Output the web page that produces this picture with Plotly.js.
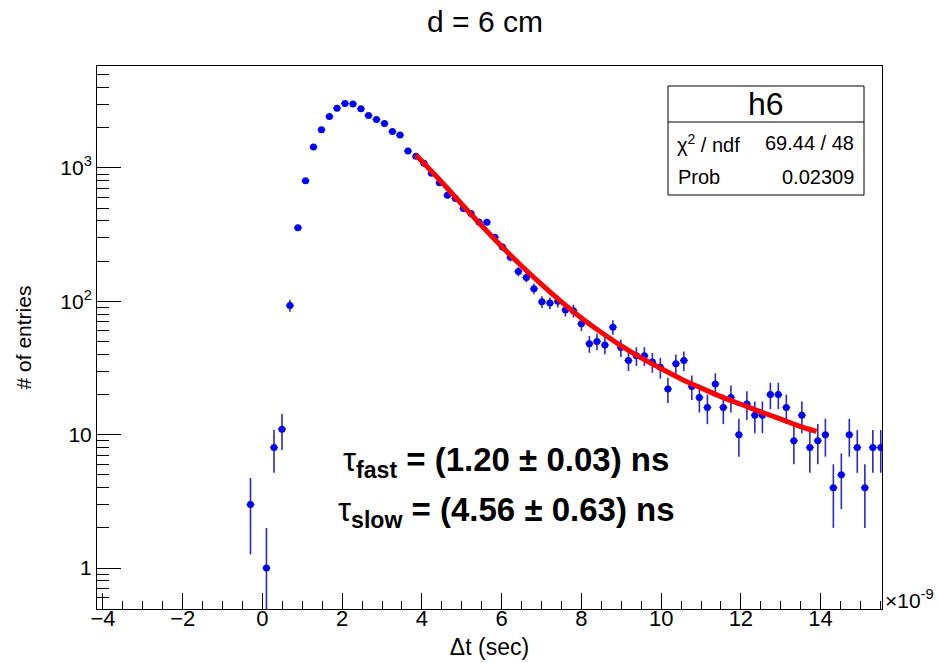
<!DOCTYPE html>
<html><head><meta charset="utf-8">
<script src="https://cdn.plot.ly/plotly-3.0.1.min.js"></script>
<style>html,body{margin:0;padding:0;background:#fff}</style>
</head><body><div id="chart" style="width:940px;height:663px"></div>
<script>
// bin centres (ns) and entries
const binCenters = [-0.30, 0.10, 0.29, 0.49, 0.69, 0.89, 1.08, 1.28, 1.48, 1.68,
  1.87, 2.07, 2.27, 2.47, 2.66, 2.86, 3.06, 3.26, 3.45, 3.65,
  3.85, 4.05, 4.24, 4.44, 4.64, 4.84, 5.04, 5.23, 5.43, 5.63,
  5.83, 6.02, 6.22, 6.42, 6.62, 6.81, 7.01, 7.21, 7.41, 7.60,
  7.80, 8.00, 8.20, 8.39, 8.59, 8.79, 8.99, 9.18, 9.38, 9.58,
  9.78, 9.98, 10.17, 10.37, 10.57, 10.77, 10.96, 11.16, 11.36, 11.56,
  11.75, 11.95, 12.15, 12.35, 12.54, 12.74, 12.94, 13.14, 13.33, 13.53,
  13.73, 13.93, 14.12, 14.32, 14.52, 14.72, 14.92, 15.11, 15.31, 15.51];
const counts = [3, 1, 8, 11, 93, 356, 800, 1432, 1929, 2430,
  2806, 3041, 3020, 2772, 2473, 2307, 2153, 1876, 1762, 1336,
  1222, 1082, 910, 773, 625, 590, 497, 456, 393, 391,
  302, 255, 214, 167, 151, 124, 99, 97, 100, 86,
  85, 68, 48, 50, 47, 64, 45, 36, 39, 39,
  35, 32, 22, 34, 36, 23, 19, 16, 24, 16,
  19, 10, 17, 14, 14, 20, 20, 16, 9, 14,
  8, 9, 10, 4, 5, 10, 8, 4, 8, 8];
const halfBin = 0.099;

// fit curve
const fitX = [3.85, 4.5, 5.0, 5.5, 6.0, 6.5, 7.0, 7.5, 8.0, 8.5, 9.0, 9.5, 10.0, 10.5, 11.0, 11.5, 12.0, 12.5, 13.0, 13.5, 13.9];
const fitY = [1250, 781, 534, 369, 258, 184, 134, 99, 75, 58.3, 46.4, 37.7, 31.3, 26.2, 22.4, 19.3, 16.9, 14.8, 13.1, 11.5, 10.6];

const yTickVals = [1, 10, 100, 1000];
const yTickText = ['1', '10', '10<sup>2</sup>', '10<sup>3</sup>'];

const titleText = 'd = 6 cm';
const xTitle = '\u0394t (sec)';
const yTitle = '# of entries';
const tauLines = ['\u03c4<sub><b>fast</b></sub><b> = (1.20 \u00b1 0.03) ns</b>',
                  '\u03c4<sub><b>slow</b></sub><b> = (4.56 \u00b1 0.63) ns</b>'];
const statsName = 'h6';
const statsLabels = ['\u03c7<sup>2</sup> / ndf', 'Prob'];
const statsValues = ['69.44 / 48', '0.02309'];

// layout helpers (pixel -> paper)
const L = 97, R = 882, T = 66, B = 609;
const px = v => (v - L) / (R - L);
const py = v => (B - v) / (B - T);

const minorY = [];
[0.1, 1, 10, 100, 1000].forEach(d => { for (let m = 2; m <= 9; m++) minorY.push(m * d); });

const FONT = 'Liberation Sans, Arial, Helvetica, sans-serif';

const data = [
  {
    x: binCenters, y: counts, type: 'scatter', mode: 'markers',
    marker: {color: '#0000ff', size: 7, symbol: 'circle'},
    error_y: {type: 'data', array: counts.map(Math.sqrt), color: 'rgb(40,40,210)', thickness: 1.6, width: 0},
    error_x: {type: 'constant', value: halfBin, color: '#000070', thickness: 1, width: 0},
    hoverinfo: 'x+y'
  },
  {
    x: fitX, y: fitY, type: 'scatter', mode: 'lines',
    line: {color: '#ff0000', width: 5, shape: 'spline'},
    hoverinfo: 'x+y'
  }
];

const annotations = [
  {text: tauLines[0], x: px(506), y: py(462), xref: 'paper', yref: 'paper', xanchor: 'center', yanchor: 'middle', showarrow: false, font: {family: FONT, size: 33, color: '#000'}},
  {text: tauLines[1], x: px(506), y: py(512), xref: 'paper', yref: 'paper', xanchor: 'center', yanchor: 'middle', showarrow: false, font: {family: FONT, size: 33, color: '#000'}},
  {text: statsName, x: px(766), y: py(104), xref: 'paper', yref: 'paper', xanchor: 'center', yanchor: 'middle', showarrow: false, font: {family: FONT, size: 32, color: '#000'}},
  {text: statsLabels[0], x: px(675), y: py(143), xref: 'paper', yref: 'paper', xanchor: 'left', yanchor: 'middle', showarrow: false, font: {family: FONT, size: 20, color: '#000'}},
  {text: statsValues[0], x: px(856), y: py(143), xref: 'paper', yref: 'paper', xanchor: 'right', yanchor: 'middle', showarrow: false, font: {family: FONT, size: 20, color: '#000'}},
  {text: statsLabels[1], x: px(676), y: py(177), xref: 'paper', yref: 'paper', xanchor: 'left', yanchor: 'middle', showarrow: false, font: {family: FONT, size: 20, color: '#000'}},
  {text: statsValues[1], x: px(856), y: py(177), xref: 'paper', yref: 'paper', xanchor: 'right', yanchor: 'middle', showarrow: false, font: {family: FONT, size: 20, color: '#000'}},
  {text: '\u00d710<sup>-9</sup>', x: px(883), y: py(599), xref: 'paper', yref: 'paper', xanchor: 'left', yanchor: 'middle', showarrow: false, font: {family: FONT, size: 21, color: '#000'}}
];

const shapes = [
  {type: 'rect', xref: 'paper', yref: 'paper', x0: px(668), x1: px(864), y0: py(195), y1: py(86), line: {color: '#000', width: 1}, fillcolor: '#fff', layer: 'above'},
  {type: 'line', xref: 'paper', yref: 'paper', x0: px(668), x1: px(864), y0: py(122), y1: py(122), line: {color: '#000', width: 1}, layer: 'above'}
];

const layout = {
  width: 940, height: 663,
  margin: {l: L, r: 940 - R, t: T, b: 663 - B, pad: 0},
  paper_bgcolor: '#fff', plot_bgcolor: '#fff',
  showlegend: false,
  font: {family: FONT, color: '#000'},
  title: {text: titleText, x: 0.516, xanchor: 'center', y: 0.968, yanchor: 'middle', font: {family: FONT, size: 30, color: '#000'}},
  xaxis: {
    type: 'linear', range: [-4.15, 15.54], autorange: false,
    tickmode: 'linear', tick0: 0, dtick: 2,
    ticks: 'inside', ticklen: 16, tickwidth: 1, tickcolor: '#000',
    minor: {dtick: 0.5, tick0: 0, ticks: 'inside', ticklen: 8, tickwidth: 1, tickcolor: '#000', showgrid: false},
    showline: true, linecolor: '#000', linewidth: 1, mirror: true,
    showgrid: false, zeroline: false,
    ticklabelstandoff: -10,
    tickfont: {family: FONT, size: 22, color: '#000'},
    title: {text: xTitle, font: {family: FONT, size: 23, color: '#000'}, standoff: 8}
  },
  yaxis: {
    type: 'log', range: [-0.307, 3.764], autorange: false,
    tickmode: 'array', tickvals: yTickVals, ticktext: yTickText,
    ticks: 'inside', ticklen: 24, tickwidth: 1, tickcolor: '#000',
    minor: {tickmode: 'array', tickvals: minorY, ticks: 'inside', ticklen: 12, tickwidth: 1, tickcolor: '#000', showgrid: false},
    showline: true, linecolor: '#000', linewidth: 1, mirror: true,
    showgrid: false, zeroline: false,
    tickfont: {family: FONT, size: 21, color: '#000'},
    title: {text: yTitle, font: {family: FONT, size: 21, color: '#000'}, standoff: 22}
  },
  annotations: annotations,
  shapes: shapes
};

Plotly.newPlot('chart', data, layout, {displayModeBar: false, staticPlot: true});
</script>
</body></html>
